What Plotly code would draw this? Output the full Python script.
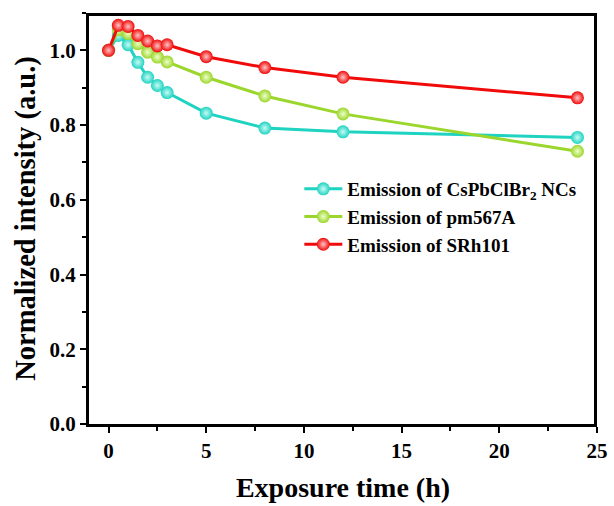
import plotly.graph_objects as go

# Exposure time (h)
time_h = [0, 0.5, 1, 1.5, 2, 2.5, 3, 5, 8, 12, 24]

# Normalized emission intensity for each emitter
cspbclbr2 = [1.0, 1.04, 1.015, 0.968, 0.928, 0.906, 0.887, 0.832, 0.792, 0.782, 0.767]
pm567a = [1.0, 1.055, 1.045, 1.018, 0.995, 0.982, 0.969, 0.928, 0.878, 0.830, 0.730]
srh101 = [1.0, 1.067, 1.064, 1.040, 1.025, 1.012, 1.015, 0.983, 0.954, 0.928, 0.873]

series_names = [
    "Emission of CsPbClBr<sub>2</sub> NCs",
    "Emission of pm567A",
    "Emission of SRh101",
]
series_values = [cspbclbr2, pm567a, srh101]
series_colors = ["#1fd3c1", "#9bd62c", "#f00a0a"]
highlight_colors = ["#c8fbf5", "#eeffc8", "#ffc4c4"]

FONT = "Liberation Serif, Times New Roman, serif"
X_RANGE = [-1, 25]
Y_RANGE = [0, 1.1]

fig = go.Figure()
for name, vals, col, hi in zip(series_names, series_values, series_colors, highlight_colors):
    fig.add_trace(go.Scatter(
        x=time_h, y=vals, name=name, mode="lines+markers",
        line=dict(color=col, width=3),
        marker=dict(size=13, color=col,
                    gradient=dict(type="radial", color=hi),
                    line=dict(width=0)),
    ))

# top and right edges of the plot frame (half of the stroke is clipped away)
fig.add_trace(go.Scatter(
    x=[X_RANGE[0], X_RANGE[1], X_RANGE[1]], y=[Y_RANGE[1], Y_RANGE[1], Y_RANGE[0]],
    mode="lines", line=dict(color="black", width=6),
    showlegend=False, hoverinfo="skip",
))

axis_common = dict(
    automargin=False,
    showline=True, linecolor="black", linewidth=3, mirror=False,
    ticks="outside", ticklen=6, tickwidth=2, tickcolor="black",
    showgrid=False, zeroline=False,
    tickfont=dict(family=FONT, size=21, color="black", weight="bold"),
)

fig.update_xaxes(
    range=X_RANGE, dtick=5, tick0=0,
    minor=dict(ticks="outside", ticklen=4, tickwidth=2, tickcolor="black", dtick=2.5, tick0=0),
    title=dict(text="Exposure time (h)", standoff=16,
               font=dict(family=FONT, size=28, color="black", weight="bold")),
    **axis_common,
)
fig.update_yaxes(
    range=Y_RANGE, dtick=0.2, tick0=0, tickformat=".1f",
    minor=dict(ticks="outside", ticklen=4, tickwidth=2, tickcolor="black", dtick=0.1, tick0=0),
    title=dict(text="Normalized intensity (a.u.)", standoff=6,
               font=dict(family=FONT, size=28.5, color="black", weight="bold")),
    **axis_common,
)

fig.update_layout(
    width=614, height=506,
    margin=dict(l=89, r=17, t=13, b=82, autoexpand=False),
    paper_bgcolor="white", plot_bgcolor="white",
    showlegend=True,
    legend=dict(
        x=0.414, y=0.618, xanchor="left", yanchor="top",
        bgcolor="rgba(0,0,0,0)", borderwidth=0,
        font=dict(family=FONT, size=19, color="black", weight="bold"),
        tracegroupgap=0, itemwidth=38,
    ),
)

fig.write_html("out.html")
